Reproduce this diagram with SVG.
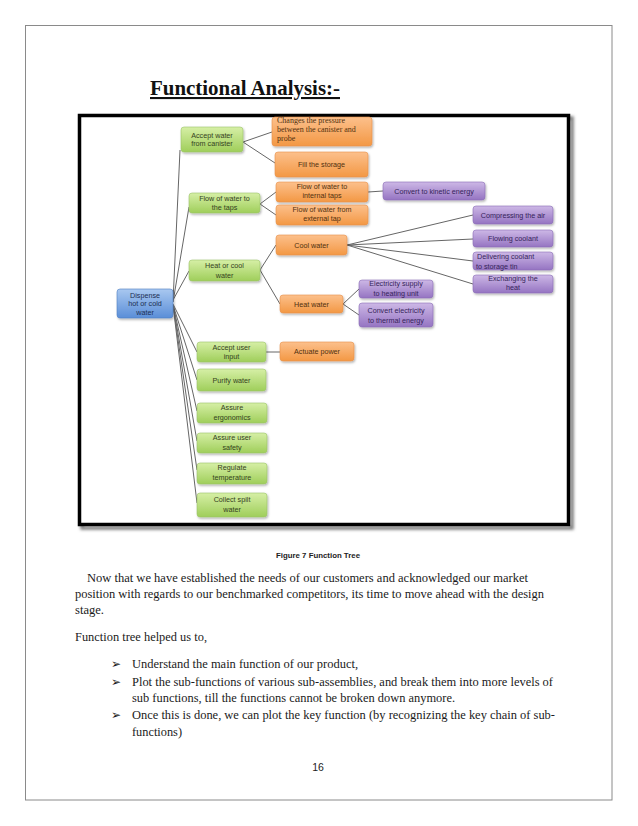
<svg xmlns="http://www.w3.org/2000/svg" width="638" height="826" viewBox="0 0 638 826">
<defs>
<linearGradient id="gG" x1="0" y1="0" x2="0" y2="1"><stop offset="0" stop-color="#d6efa6"/><stop offset="1" stop-color="#9fce5a"/></linearGradient>
<linearGradient id="gO" x1="0" y1="0" x2="0" y2="1"><stop offset="0" stop-color="#fcc08c"/><stop offset="1" stop-color="#f39844"/></linearGradient>
<linearGradient id="gP" x1="0" y1="0" x2="0" y2="1"><stop offset="0" stop-color="#cdb8e6"/><stop offset="1" stop-color="#9574c2"/></linearGradient>
<linearGradient id="gB" x1="0" y1="0" x2="0" y2="1"><stop offset="0" stop-color="#a9c8f0"/><stop offset="1" stop-color="#5a8ed8"/></linearGradient>
<filter id="sh" x="-20%" y="-20%" width="150%" height="160%"><feDropShadow dx="1" dy="1.5" stdDeviation="1" flood-color="#000" flood-opacity="0.3"/></filter>
<filter id="fsh" x="-5%" y="-5%" width="110%" height="110%"><feGaussianBlur stdDeviation="1.5"/></filter>
</defs>
<style>
.n rect{rx:3px;filter:url(#sh);stroke-width:0.6}
.g rect{fill:url(#gG);stroke:#9cc46a}
.o rect{fill:url(#gO);stroke:#e8904a}
.p rect{fill:url(#gP);stroke:#8a6db5}
.b rect{fill:url(#gB);stroke:#4f7fc4}
.n text{font-family:"Liberation Sans",Arial,sans-serif;font-size:7.2px;text-anchor:middle}
.g text{fill:#34421e}
.o text{fill:#50300f}
.p text{fill:#35235a}
.b text{fill:#1c2e52}
.o text.sf{font-family:"Liberation Serif","Times New Roman",serif;font-size:8px;text-anchor:start}
.p text.l{text-anchor:start}
#connectors line{stroke:#666;stroke-width:1;fill:none}
.body{font-family:"Liberation Serif","Times New Roman",serif;font-size:13px;fill:#1a1a1a}
.bul{font-family:"DejaVu Sans",sans-serif;font-size:12px;fill:#1a1a1a}
</style>
<rect x="0" y="0" width="638" height="826" fill="#ffffff"/>
<rect x="25.5" y="25.5" width="586.5" height="774.5" fill="none" stroke="#8a8a8a" stroke-width="1"/>
<text x="150" y="95" font-family="Liberation Serif,Times New Roman,serif" font-weight="bold" font-size="21" text-decoration="underline" textLength="190" lengthAdjust="spacingAndGlyphs" fill="#111">Functional Analysis:-</text>
<g id="frame">
<rect x="82" y="118" width="490" height="410" fill="none" stroke="#7a7a7a" stroke-width="3.5" filter="url(#fsh)"/>
<rect x="79.5" y="115.5" width="489" height="409" fill="#ffffff" stroke="#000" stroke-width="3.5"/>
</g>
<g id="connectors">
<line x1="173" y1="302" x2="180" y2="150"/>
<line x1="173" y1="302" x2="189" y2="207"/>
<line x1="173" y1="300" x2="189" y2="271"/>
<line x1="173" y1="304" x2="197" y2="352"/>
<line x1="173" y1="305" x2="197" y2="380"/>
<line x1="173" y1="305" x2="197" y2="411"/>
<line x1="173" y1="305" x2="197" y2="441"/>
<line x1="173" y1="305" x2="197" y2="470"/>
<line x1="173" y1="305" x2="197" y2="503"/>
<line x1="243" y1="142" x2="272" y2="132"/>
<line x1="243" y1="142" x2="275" y2="163"/>
<line x1="260" y1="204" x2="276" y2="192"/>
<line x1="260" y1="204" x2="276" y2="215"/>
<line x1="368" y1="192" x2="383" y2="191"/>
<line x1="260" y1="270" x2="276" y2="245"/>
<line x1="260" y1="270" x2="280" y2="304"/>
<line x1="347" y1="245" x2="473" y2="215"/>
<line x1="347" y1="245" x2="473" y2="239"/>
<line x1="347" y1="245" x2="473" y2="261"/>
<line x1="347" y1="245" x2="473" y2="284"/>
<line x1="343" y1="304" x2="359" y2="289"/>
<line x1="343" y1="304" x2="359" y2="315"/>
<line x1="266" y1="352" x2="280" y2="352"/>
</g>
<g id="n-root" class="n b"><rect x="117" y="289" width="56" height="29"/><text x="145" y="297.5">Dispense</text><text x="145" y="306">hot or cold</text><text x="145" y="314.5">water</text></g>
<g id="n-accept-water" class="n g"><rect x="181" y="127" width="62" height="25"/><text x="212" y="137.5">Accept water</text><text x="212" y="146">from canister</text></g>
<g id="n-changes" class="n o"><rect x="272" y="117" width="100" height="29"/><text class="sf" x="277" y="123">Changes the  pressure</text><text class="sf" x="277" y="132">between the canister and</text><text class="sf" x="277" y="141">probe</text></g>
<g id="n-fill" class="n o"><rect x="275" y="152" width="93" height="25"/><text x="321.5" y="167">Fill the storage</text></g>
<g id="n-flow-taps" class="n g"><rect x="189" y="193" width="71" height="20"/><text x="224.5" y="201">Flow of water to</text><text x="224.5" y="210">the taps</text></g>
<g id="n-internal" class="n o"><rect x="276" y="182" width="92" height="20"/><text x="322" y="189">Flow of water to</text><text x="322" y="198">internal taps</text></g>
<g id="n-external" class="n o"><rect x="276" y="205" width="92" height="20"/><text x="322" y="212">Flow of water from</text><text x="322" y="221">external tap</text></g>
<g id="n-kinetic" class="n p"><rect x="383" y="182" width="102" height="18"/><text x="434" y="193.5">Convert to kinetic energy</text></g>
<g id="n-heat-cool" class="n g"><rect x="189" y="260" width="71" height="21"/><text x="224.5" y="268">Heat or cool</text><text x="224.5" y="277.5">water</text></g>
<g id="n-cool" class="n o"><rect x="276" y="235" width="71" height="20"/><text x="311.5" y="247.5">Cool water</text></g>
<g id="n-heat" class="n o"><rect x="280" y="295" width="63" height="18"/><text x="311.5" y="306.5">Heat water</text></g>
<g id="n-compress" class="n p"><rect x="473" y="206" width="80" height="18"/><text x="513" y="217.5">Compressing the air</text></g>
<g id="n-flowing" class="n p"><rect x="473" y="230" width="80" height="17"/><text x="513" y="241">Flowing coolant</text></g>
<g id="n-delivering" class="n p"><rect x="473" y="252" width="80" height="18"/><text class="l" x="477" y="259">Delivering coolant</text><text class="l" x="476" y="269">to storage tin</text></g>
<g id="n-exchanging" class="n p"><rect x="473" y="275" width="80" height="18"/><text x="513" y="281">Exchanging the</text><text x="513" y="290">heat</text></g>
<g id="n-elec-supply" class="n p"><rect x="359" y="280" width="74" height="18"/><text x="396" y="286">Electricity supply</text><text x="396" y="295.5">to heating unit</text></g>
<g id="n-convert-elec" class="n p"><rect x="359" y="303" width="74" height="24"/><text x="396" y="312.5">Convert electricity</text><text x="396" y="323">to thermal energy</text></g>
<g id="n-user-input" class="n g"><rect x="197" y="342" width="69" height="20"/><text x="231.5" y="349.5">Accept user</text><text x="231.5" y="359">input</text></g>
<g id="n-actuate" class="n o"><rect x="280" y="342" width="74" height="19"/><text x="317" y="354">Actuate power</text></g>
<g id="n-purify" class="n g"><rect x="197" y="369" width="69" height="22"/><text x="231.5" y="382.5">Purify water</text></g>
<g id="n-ergonomics" class="n g"><rect x="197" y="403" width="70" height="20"/><text x="232" y="410">Assure</text><text x="232" y="419.5">ergonomics</text></g>
<g id="n-safety" class="n g"><rect x="197" y="433" width="70" height="20"/><text x="232" y="440">Assure user</text><text x="232" y="449.5">safety</text></g>
<g id="n-regulate" class="n g"><rect x="197" y="463" width="70" height="21"/><text x="232" y="470">Regulate</text><text x="232" y="479.5">temperature</text></g>
<g id="n-collect" class="n g"><rect x="197" y="493" width="70" height="24"/><text x="232" y="501.5">Collect spilt</text><text x="232" y="511.5">water</text></g>
<text x="318" y="558" font-family="Liberation Sans,Arial,sans-serif" font-weight="bold" font-size="7" text-anchor="middle" fill="#222" textLength="84" lengthAdjust="spacingAndGlyphs">Figure 7 Function Tree</text>
<text class="body" x="87" y="582" textLength="441" lengthAdjust="spacingAndGlyphs">Now that we have established the needs of our customers and acknowledged our market</text>
<text class="body" x="75" y="598" textLength="469" lengthAdjust="spacingAndGlyphs">position with regards to our benchmarked competitors, its time to move ahead with the design</text>
<text class="body" x="75" y="614" textLength="29" lengthAdjust="spacingAndGlyphs">stage.</text>
<text class="body" x="75" y="641" textLength="132" lengthAdjust="spacingAndGlyphs">Function tree helped us to,</text>
<text class="bul" x="111" y="668">➢</text>
<text class="body" x="132" y="668" textLength="226" lengthAdjust="spacingAndGlyphs">Understand the main function of our product,</text>
<text class="bul" x="111" y="686">➢</text>
<text class="body" x="132" y="686" textLength="421" lengthAdjust="spacingAndGlyphs">Plot the sub-functions of various sub-assemblies, and break them into more levels of</text>
<text class="body" x="132" y="702" textLength="323" lengthAdjust="spacingAndGlyphs">sub functions, till the functions cannot be broken down anymore.</text>
<text class="bul" x="111" y="719">➢</text>
<text class="body" x="132" y="719" textLength="423" lengthAdjust="spacingAndGlyphs">Once this is done, we can plot the key function (by recognizing the key chain of sub-</text>
<text class="body" x="132" y="736" textLength="50" lengthAdjust="spacingAndGlyphs">functions)</text>
<text x="318" y="771" font-family="Liberation Sans,Arial,sans-serif" font-size="10.5" text-anchor="middle" fill="#222">16</text>
</svg>
